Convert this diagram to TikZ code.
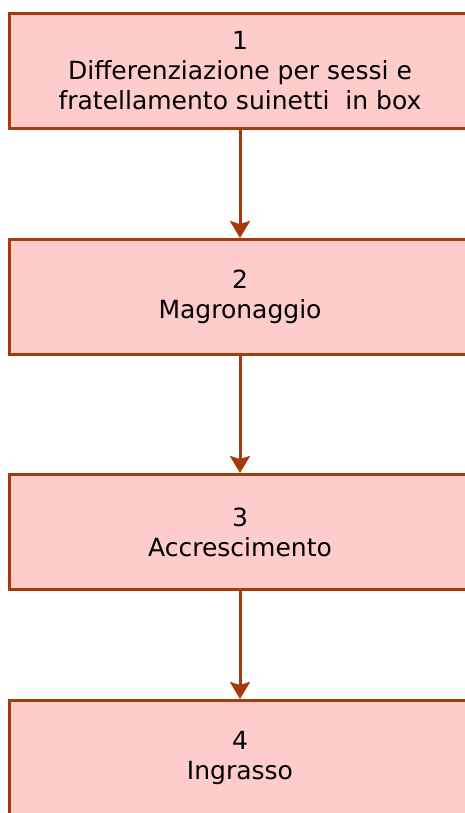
\documentclass[tikz,border=0pt]{standalone}
\usepackage{fontspec}
\setmainfont{DejaVu Sans}
\usetikzlibrary{arrows.meta}
\definecolor{bordo}{RGB}{163,59,10}
\definecolor{rosa}{RGB}{255,204,204}
\tikzset{
	fase/.style={draw=bordo,fill=rosa,line width=3pt,minimum width=461pt,minimum height=115pt,align=center,font=\fontsize{25}{30}\selectfont},
	freccia/.style={draw=bordo,line width=3pt,-{Stealth[length=17pt,width=20pt,inset=3pt]}}
}
\begin{document}
	\begin{tikzpicture}[x=1pt,y=1pt]
		\useasboundingbox (0,0) rectangle (465,-813);
		\node[fase] (f1) at (240,-71) {1\\Differenziazione per sessi e\\fratellamento suinetti~ in box};
		\node[fase] (f2) at (240,-297) {2\\Magronaggio};
		\node[fase] (f3) at (240,-532) {3\\Accrescimento};
		\node[fase] (f4) at (240,-758) {4\\Ingrasso};
		\draw[freccia] (f1) -- (f2);
		\draw[freccia] (f2) -- (f3);
		\draw[freccia] (f3) -- (f4);
	\end{tikzpicture}
\end{document}
